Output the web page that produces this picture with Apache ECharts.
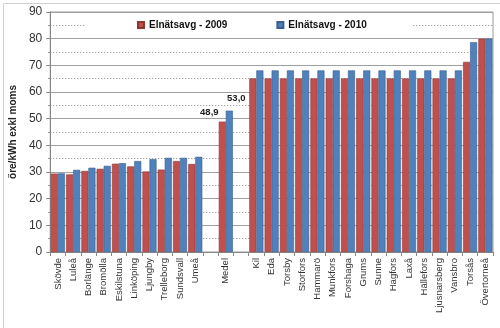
<!DOCTYPE html>
<html><head><meta charset="utf-8">
<script src="https://cdn.jsdelivr.net/npm/echarts@6/dist/echarts.min.js"></script>
<style>html,body{margin:0;padding:0;background:#fff}#c{width:500px;height:328px}</style>
</head><body><div id="c"></div>
<script>
var categories = ["Skövde","Luleå","Borlänge","Bromölla","Eskilstuna","Linköping","Ljungby","Trelleborg","Sundsvall","Umeå","","Medel","","Kil","Eda","Torsby","Storfors","Hammarö","Munkfors","Forshaga","Grums","Sunne","Hagfors","Laxå","Hällefors","Ljusnarsberg","Vansbro","Torsås","Övertorneå"];
var values2009 = [29.4,29.1,30.4,31.2,33.1,32.1,30.2,30.9,34.1,33.0,null,48.9,null,65.1,65.1,65.1,65.1,65.1,65.1,65.1,65.1,65.1,65.1,65.1,65.1,65.1,65.1,71.3,80.0];
var values2010 = [29.5,30.8,31.6,32.3,33.3,34.1,34.8,35.3,35.3,35.7,null,53.0,null,68.1,68.1,68.1,68.1,68.1,68.1,68.1,68.1,68.1,68.1,68.1,68.1,68.1,68.1,78.7,80.0];
var seriesNames = ["Elnätsavg - 2009","Elnätsavg - 2010"];
var yTitle = "öre/kWh exkl moms";
var labelIndex = 11;

function withLabel(arr, offset) {
  return arr.map(function (v, i) {
    if (i === labelIndex) {
      return {value: v, label: {show: true, position: 'top', offset: offset,
        formatter: function (p) { return p.value.toFixed(1).replace('.', ','); },
        fontFamily: 'Liberation Sans, Arial', fontWeight: 'bold', fontSize: 9.5, color: '#222'}};
    }
    return v;
  });
}

var chart = echarts.init(document.getElementById('c'), null, {renderer: 'canvas'});
chart.setOption({
  animation: false,
  textStyle: {fontFamily: 'Liberation Sans, Arial'},
  graphic: [{type: 'rect', left: 1, top: 1, shape: {width: 497, height: 325}, style: {fill: 'none', stroke: '#d0d0d0', lineWidth: 1}, z: -10}],
  grid: {left: 40, right: 7, top: 12, bottom: 76, show: true, borderColor: '#9a9a9a', borderWidth: 1},
  legend: {
    left: 85, top: 14,
    padding: [4, 46, 4, 52],
    itemGap: 49,
    itemWidth: 6, itemHeight: 6,
    icon: 'rect',
    backgroundColor: '#fff',
    textStyle: {fontFamily: 'Liberation Sans, Arial', fontWeight: 'bold', fontSize: 10, color: '#111', lineHeight: 14},
    data: seriesNames
  },
  xAxis: {
    type: 'category', data: categories,
    axisLine: {lineStyle: {color: '#888'}},
    axisTick: {show: true, alignWithLabel: false, length: 4, lineStyle: {color: '#888'}},
    axisLabel: {rotate: 90, fontSize: 9.5, color: '#333', margin: 6, interval: 0}
  },
  yAxis: {
    type: 'value', min: 0, max: 90, interval: 10,
    name: yTitle, nameLocation: 'middle', nameGap: 28, nameRotate: 90,
    nameTextStyle: {fontWeight: 'bold', fontSize: 10, color: '#222'},
    axisLine: {show: true, lineStyle: {color: '#888'}},
    axisTick: {show: true, length: 4, lineStyle: {color: '#888'}},
    minorTick: {show: true, splitNumber: 2, length: 2, lineStyle: {color: '#888'}},
    axisLabel: {fontSize: 12, color: '#333', margin: 8},
    splitLine: {show: true, lineStyle: {color: '#a0a0a0', width: 1}},
    minorSplitLine: {show: true, lineStyle: {color: '#888', type: [1, 2], width: 1}}
  },
  series: [
    {name: seriesNames[0], type: 'bar', data: withLabel(values2009, [-13, 1]), barGap: '0%', barCategoryGap: '8%',
     itemStyle: {color: '#c0504d', borderColor: '#8e3532', borderWidth: 0.6}},
    {name: seriesNames[1], type: 'bar', data: withLabel(values2010, [7, -2]), barGap: '0%', barCategoryGap: '8%',
     itemStyle: {color: '#4f81bd', borderColor: '#3a5f8c', borderWidth: 0.6}}
  ]
});
</script></body></html>
